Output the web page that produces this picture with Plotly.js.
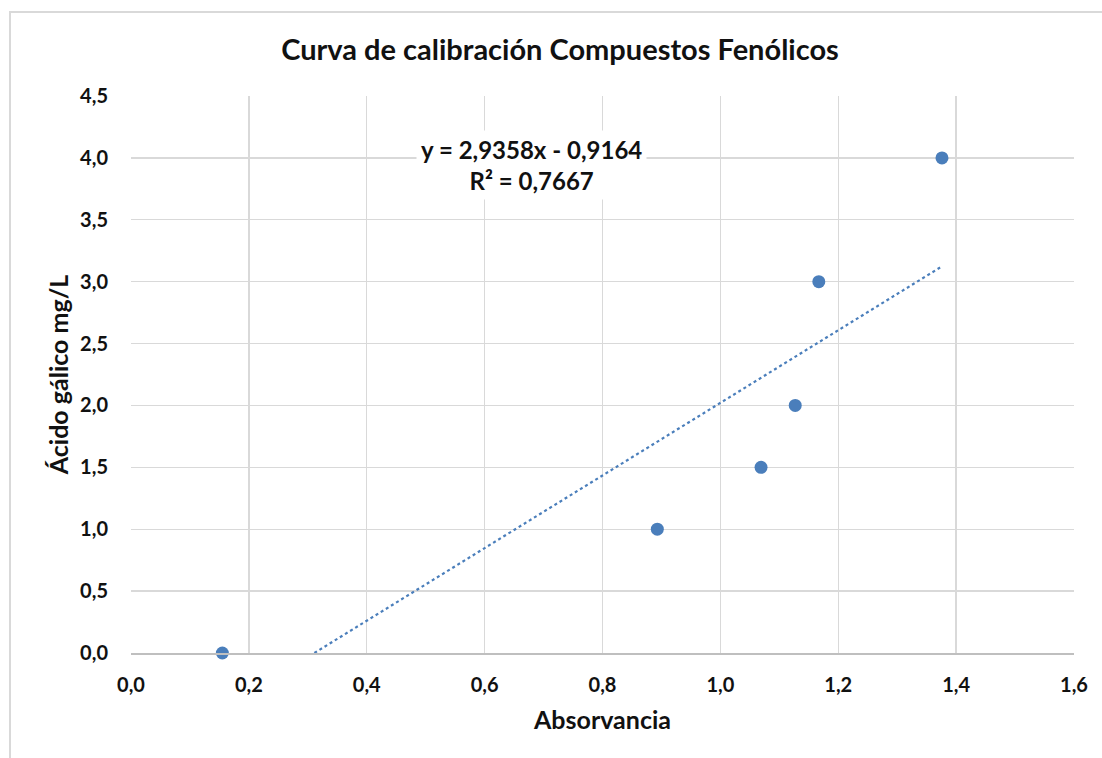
<!DOCTYPE html>
<html>
<head>
<meta charset="utf-8">
<script src="https://cdn.plot.ly/plotly-3.0.1.min.js"></script>
<style>
  html, body { margin: 0; padding: 0; background: #ffffff; overflow: hidden; }
  #frame { position: absolute; left: 9px; top: 11px; width: 1200px; height: 900px;
           border-left: 2px solid #d9d9d9; border-top: 2px solid #d9d9d9; }
  #chart { position: absolute; left: 0; top: 0; width: 1102px; height: 758px; }
</style>
</head>
<body>
<div id="frame"></div>
<div id="chart"></div>
<script>
// Data
const absorbance = [0.155, 0.893, 1.069, 1.127, 1.167, 1.376];
const gallicAcid = [0.0, 1.0, 1.5, 2.0, 3.0, 4.0];
const xTickVals = [0, 0.2, 0.4, 0.6, 0.8, 1.0, 1.2, 1.4, 1.6];
const xTickText = ["0,0", "0,2", "0,4", "0,6", "0,8", "1,0", "1,2", "1,4", "1,6"];
const yTickVals = [0, 0.5, 1.0, 1.5, 2.0, 2.5, 3.0, 3.5, 4.0, 4.5];
const yTickText = ["0,0", "0,5", "1,0", "1,5", "2,0", "2,5", "3,0", "3,5", "4,0", "4,5"];
const equationText = "y = 2,9358x - 0,9164<br>R² = 0,7667";

// Linear least-squares trendline computed from the data
const n = absorbance.length;
const mx = absorbance.reduce((a, b) => a + b, 0) / n;
const my = gallicAcid.reduce((a, b) => a + b, 0) / n;
let sxy = 0, sxx = 0;
for (let i = 0; i < n; i++) {
  sxy += (absorbance[i] - mx) * (gallicAcid[i] - my);
  sxx += (absorbance[i] - mx) * (absorbance[i] - mx);
}
const slope = sxy / sxx;
const intercept = my - slope * mx;
const xStart = Math.max(Math.min(...absorbance), -intercept / slope);
const xEnd = Math.max(...absorbance);
const trendX = [xStart, xEnd];
const trendY = trendX.map(x => slope * x + intercept);

const blue = "#4a7ebb";
const font = "Lato, 'Open Sans', sans-serif";
const ink = "#111111";

const traces = [
  {
    x: trendX, y: trendY, mode: "lines", type: "scatter",
    line: { color: blue, width: 2.2, dash: "dot" },
    hoverinfo: "skip", showlegend: false
  },
  {
    x: absorbance, y: gallicAcid, mode: "markers", type: "scatter",
    marker: { color: blue, size: 13 },
    cliponaxis: false, showlegend: false
  }
];

const layout = {
  width: 1102, height: 758,
  paper_bgcolor: "rgba(0,0,0,0)", plot_bgcolor: "#ffffff",
  margin: { l: 131, r: 28, t: 96, b: 105 },
  font: { family: font, color: ink },
  title: {
    text: "<b>Curva de calibración Compuestos Fenólicos</b>",
    font: { family: font, size: 29, color: ink },
    xref: "container", x: 560 / 1102, xanchor: "center",
    yref: "container", y: 1 - 50 / 758, yanchor: "middle"
  },
  xaxis: {
    range: [0, 1.6], tickvals: xTickVals, ticktext: xTickText,
    showgrid: true, gridcolor: "#d9d9d9", gridwidth: 1.3,
    zeroline: false, showline: true, linecolor: "#bfbfbf", linewidth: 2,
    ticks: "", ticklabelstandoff: 13,
    tickfont: { family: font, size: 20, color: ink, weight: "bold" },
    title: { text: "<b>Absorvancia</b>", font: { family: font, size: 25, color: ink }, standoff: 16 }
  },
  yaxis: {
    range: [0, 4.5], tickvals: yTickVals, ticktext: yTickText,
    showgrid: true, gridcolor: "#d9d9d9", gridwidth: 1.3,
    zeroline: false, showline: false,
    ticks: "", ticklabelstandoff: 22,
    tickfont: { family: font, size: 20, color: ink, weight: "bold" },
    title: { text: "<b>Ácido gálico mg/L</b>", font: { family: font, size: 25, color: ink }, standoff: 4 }
  },
  annotations: [
    {
      text: "<b>" + equationText + "</b>",
      xref: "paper", yref: "paper",
      x: (531 - 131) / (1074 - 131), y: (653 - 165) / (653 - 96),
      xanchor: "center", yanchor: "middle", showarrow: false,
      align: "center", bgcolor: "#ffffff", borderpad: 4,
      font: { family: font, size: 24, color: ink }
    }
  ]
};

Plotly.newPlot("chart", traces, layout, { displayModeBar: false, staticPlot: true });
</script>
</body>
</html>
